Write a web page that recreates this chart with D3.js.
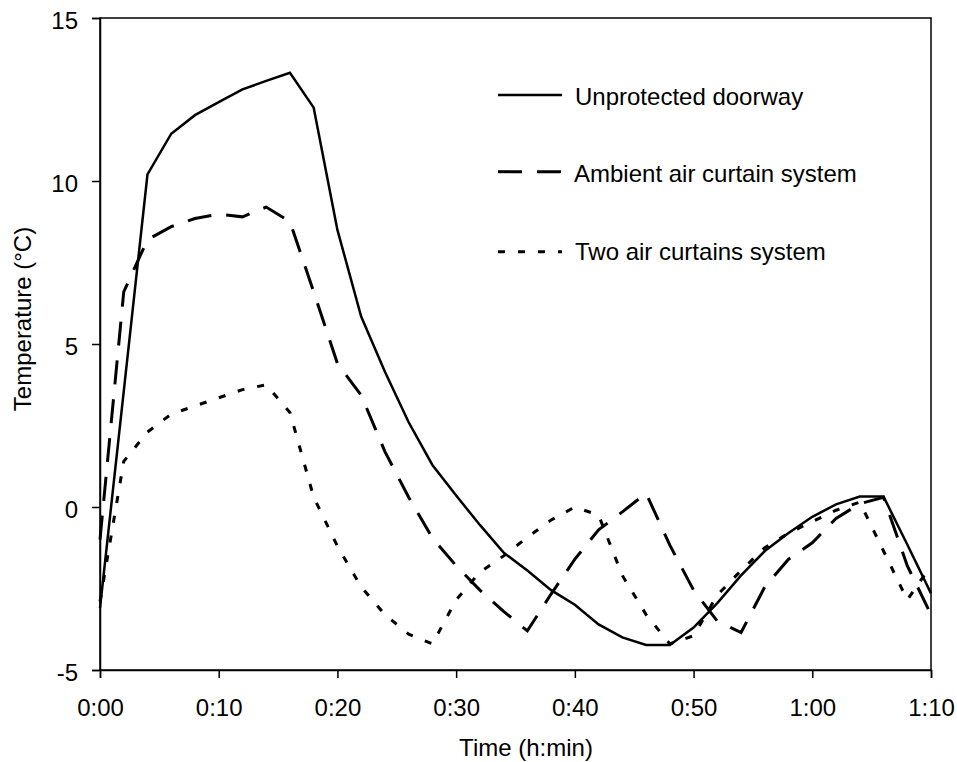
<!DOCTYPE html>
<html><head><meta charset="utf-8">
<script src="https://cdn.jsdelivr.net/npm/d3@7"></script>
<style>
body{margin:0;background:#fff;}
text{font-family:"Liberation Sans",Arial,sans-serif;fill:#000;}
</style></head>
<body><svg id="c" width="957" height="762"></svg>
<script>
const times = [0,2,4,6,8,10,12,14,16,18,20,22,24,26,28,30,32,34,36,38,40,42,44,46,48,50,52,54,56,58,60,62,64,66,68,70];
const unprotected = [-3.1,3.55,10.2,11.45,12.02,12.42,12.81,13.07,13.32,12.25,8.5,5.84,4.15,2.6,1.29,0.35,-0.55,-1.4,-1.95,-2.55,-3.0,-3.6,-4.0,-4.23,-4.23,-3.7,-2.95,-2.1,-1.35,-0.8,-0.3,0.08,0.32,0.32,-1.15,-2.65];
const ambient = [-1.0,6.6,8.2,8.6,8.85,8.98,8.9,9.2,8.75,6.6,4.4,3.43,1.7,0.3,-0.95,-1.8,-2.55,-3.2,-3.8,-2.67,-1.6,-0.7,-0.15,0.42,-1.17,-2.55,-3.5,-3.85,-2.45,-1.6,-1.1,-0.35,0.1,0.3,-1.8,-3.3];
const twoCurtains = [-2.9,1.4,2.3,2.85,3.1,3.35,3.6,3.75,2.9,0.3,-1.2,-2.45,-3.3,-3.9,-4.2,-2.85,-2.0,-1.5,-0.93,-0.4,0.0,-0.25,-2.1,-3.3,-4.2,-3.95,-2.7,-1.95,-1.25,-0.8,-0.45,-0.1,0.15,-1.35,-2.85,-1.8];
const seriesNames = ["Unprotected doorway","Ambient air curtain system","Two air curtains system"];
const xTicks = [0,10,20,30,40,50,60,70];
const yTicks = [-5,0,5,10,15];

const svg = d3.select("#c");
const L=100,R=931,T=18,B=670;
const FS=24;
const x = d3.scaleLinear().domain([0,70]).range([L,R]);
const y = d3.scaleLinear().domain([-5,15]).range([B,T]);
const fmt = m => Math.floor(m/60)+":"+String(m%60).padStart(2,"0");

// frame
svg.append("rect").attr("x",L).attr("y",T).attr("width",R-L).attr("height",B-T)
  .attr("fill","none").attr("stroke","#000").attr("stroke-width",1.5);

const xAxis = svg.append("g").attr("transform",`translate(0,${B})`)
  .call(d3.axisBottom(x).tickValues(xTicks).tickFormat(fmt).tickSize(8).tickPadding(21));
const yAxis = svg.append("g").attr("transform",`translate(${L},0)`)
  .call(d3.axisLeft(y).tickValues(yTicks).tickFormat(v=>String(v)).tickSize(8).tickPadding(14));
[xAxis,yAxis].forEach(g=>{
  g.attr("font-size",FS);
  g.select(".domain").attr("stroke","#000").attr("stroke-width",1.5);
  g.selectAll(".tick line").attr("stroke","#000").attr("stroke-width",1.5);
  g.selectAll("text").attr("font-size",FS);
});
yAxis.selectAll("text").attr("dy","0.44em");

svg.append("text").attr("x",526).attr("y",756).attr("text-anchor","middle").attr("font-size",FS).text("Time (h:min)");
svg.append("text").attr("transform","translate(31,319) rotate(-90)").attr("text-anchor","middle").attr("font-size",FS).text("Temperature (°C)");

const styles = [
  {data:unprotected, dash:null, w:2.5},
  {data:ambient, dash:"24,15", w:3},
  {data:twoCurtains, dash:"7,13", w:3}
];
const line = d3.line().x(d=>x(d[0])).y(d=>y(d[1]));
const plot = svg.append("g");
styles.forEach(s=>{
  plot.append("path").datum(times.map((t,i)=>[t,s.data[i]]))
    .attr("d",line).attr("fill","none").attr("stroke","#000")
    .attr("stroke-width",s.w).attr("stroke-linejoin","miter")
    .attr("stroke-dasharray",s.dash);
});

// legend
const legLineY=[95,171.7,251.7];
const legTextY=[105,181.7,260];
const legTextX=[575,574,575];
styles.forEach((s,i)=>{
  svg.append("line").attr("x1",498).attr("x2",562).attr("y1",legLineY[i]).attr("y2",legLineY[i])
    .attr("stroke","#000").attr("stroke-width",s.w).attr("stroke-dasharray",s.dash);
  svg.append("text").attr("x",legTextX[i]).attr("y",legTextY[i])
    .attr("font-size",FS).text(seriesNames[i]);
});
</script></body></html>
